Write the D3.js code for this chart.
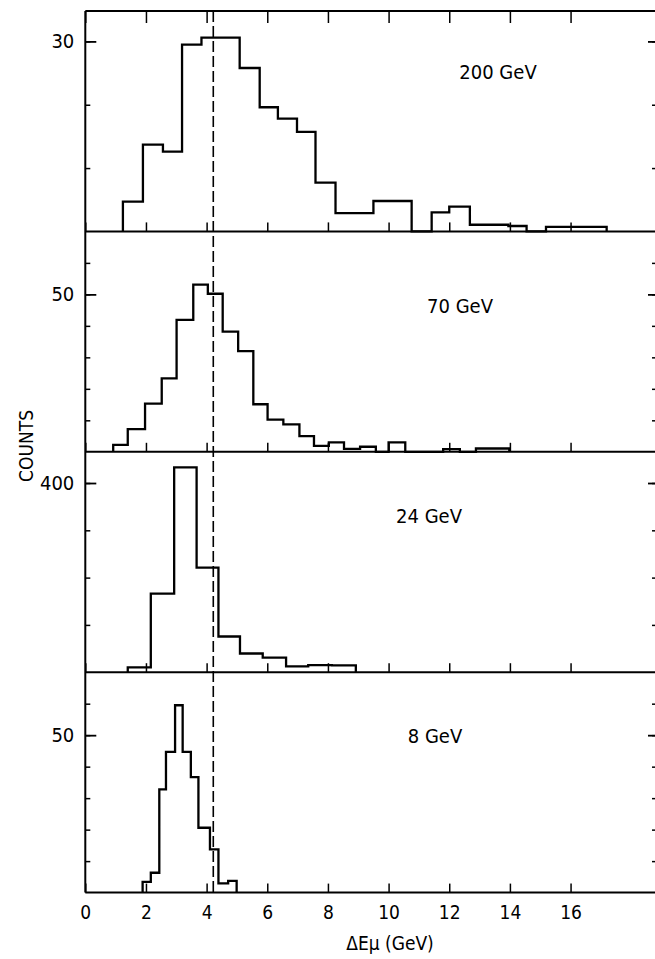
<!DOCTYPE html>
<html>
<head>
<meta charset="utf-8">
<script src="https://cdn.jsdelivr.net/npm/d3@7"></script>
<style>
  body { margin: 0; background: #fff; }
  text { font-family: "DejaVu Sans Condensed", "DejaVu Sans", sans-serif; font-stretch: condensed; fill: #000; }
</style>
</head>
<body>
<svg id="chart" width="655" height="959"></svg>
<script>
// Muon energy loss spectra at four beam energies (bin edges in GeV, counts per bin)
const panelLabels = ["200 GeV", "70 GeV", "24 GeV", "8 GeV"];

const edges200 = [1.24, 1.90, 2.56, 3.19, 3.83, 4.45, 5.09, 5.75, 6.35, 6.98, 7.59, 8.25, 8.88,
                  9.50, 10.13, 10.76, 11.42, 12.0, 12.68, 13.32, 13.95, 14.55, 15.19, 15.86, 16.53, 17.19];
const counts200 = [4.7, 13.7, 12.6, 29.5, 30.6, 30.6, 25.8, 19.6, 17.8, 15.7, 7.7, 2.9, 2.9,
                   4.8, 4.8, 0, 3.0, 3.9, 1.05, 1.05, 0.85, 0, 0.7, 0.7, 0.7];

const edges70 = [0.92, 1.40, 1.97, 2.52, 3.01, 3.56, 4.04, 4.53, 5.04, 5.54, 6.01, 6.53, 7.06,
                 7.54, 8.03, 8.53, 9.06, 9.58, 10.0, 10.55, 11.8, 12.35, 12.88, 13.43, 13.98];
const counts70 = [2.2, 7.2, 15.3, 23.3, 41.9, 53.1, 50.2, 38.2, 32.0, 15.1, 10.2, 8.7,
                  5.0, 1.9, 3.0, 0.9, 1.6, 0, 3.0, 0, 0.85, 0, 1.05, 1.05];

const edges24 = [1.40, 2.16, 2.93, 3.67, 4.39, 5.10, 5.85, 6.62, 7.35, 8.13, 8.92];
const counts24 = [10, 166, 433, 221, 75.5, 39.5, 31, 12.5, 15, 14.5];

const edges8 = [1.89, 2.16, 2.44, 2.66, 2.96, 3.21, 3.48, 3.73, 4.11, 4.39, 4.71, 4.99];
const counts8 = [3.4, 6.3, 32.8, 44.7, 59.5, 44.7, 36.7, 20.6, 13.7, 2.9, 3.7];

// Vertical axis extent, minor tick step and the labelled tick of each panel
const yMax = [34.8, 70, 466, 70];
const yStep = [10, 10, 100, 10];
const yLabelled = [30, 50, 400, 50];

// Horizontal axis
const xMax = 18.85;
const xTickValues = [0, 2, 4, 6, 8, 10, 12, 14, 16];
const refEnergyLoss = 4.22;   // dashed reference line (GeV)

const histograms = [
  { edges: edges200, counts: counts200 },
  { edges: edges70, counts: counts70 },
  { edges: edges24, counts: counts24 },
  { edges: edges8, counts: counts8 }
];

// ---------------- layout ----------------
const svg = d3.select("#chart");
const plotLeft = 85.3, plotRight = 657;
const plotTop = 11, panelH = 220.4;
const labelPos = [[498, 68], [460, 82], [429, 71], [435, 71]]; // [x px, baseline offset from panel top]

const x = d3.scaleLinear().domain([0, xMax]).range([plotLeft, plotRight]);
const plotBottom = plotTop + 4 * panelH;

const line = d3.line().x(d => x(d[0])).y(d => d[1]);

histograms.forEach((h, i) => {
  const y0 = plotTop + i * panelH;
  const y = d3.scaleLinear().domain([0, yMax[i]]).range([y0 + panelH, y0]);
  const g = svg.append("g");

  // step outline of the histogram
  const pts = [[h.edges[0], y(0)]];
  h.counts.forEach((c, k) => {
    pts.push([h.edges[k], y(c)]);
    pts.push([h.edges[k + 1], y(c)]);
  });
  pts.push([h.edges[h.edges.length - 1], y(0)]);
  g.append("path").attr("d", line(pts))
    .attr("fill", "none").attr("stroke", "#000").attr("stroke-width", 2.3)
    .attr("stroke-linejoin", "miter");

  // left axis: minor ticks + labelled tick (pointing inward)
  const minor = d3.range(yStep[i], yMax[i], yStep[i]);
  g.append("g").attr("transform", `translate(${plotLeft},0)`)
    .call(d3.axisLeft(y).tickValues(minor).tickSize(-5).tickFormat(""))
    .call(a => a.select(".domain").remove())
    .call(a => a.selectAll("line").attr("stroke-width", 1.5));
  g.append("g").attr("transform", `translate(${plotLeft},0)`)
    .call(d3.axisLeft(y).tickValues([yLabelled[i]]).tickSize(-11).tickPadding(11))
    .call(a => a.select(".domain").remove())
    .call(a => a.selectAll("line").attr("stroke-width", 1.8))
    .call(a => a.selectAll("text").attr("font-size", 20).attr("fill", "#000"));

  // right axis mirror ticks
  g.append("g").attr("transform", `translate(${plotRight},0)`)
    .call(d3.axisRight(y).tickValues(minor).tickSize(-5).tickFormat(""))
    .call(a => a.select(".domain").remove())
    .call(a => a.selectAll("line").attr("stroke-width", 1.5));
  g.append("g").attr("transform", `translate(${plotRight},0)`)
    .call(d3.axisRight(y).tickValues([yLabelled[i]]).tickSize(-9).tickFormat(""))
    .call(a => a.select(".domain").remove())
    .call(a => a.selectAll("line").attr("stroke-width", 1.8));

  // baseline with upward ticks
  const bx = d3.axisBottom(x).tickValues(xTickValues).tickSize(-9);
  if (i < 3) bx.tickFormat("");
  else bx.tickPadding(13);
  g.append("g").attr("transform", `translate(0,${y0 + panelH})`)
    .call(bx)
    .call(a => a.select(".domain").remove())
    .call(a => a.selectAll("line").attr("stroke-width", 1.5))
    .call(a => a.selectAll("text").attr("font-size", 19).attr("fill", "#000"));
  g.append("line")
    .attr("x1", plotLeft).attr("x2", plotRight)
    .attr("y1", y0 + panelH).attr("y2", y0 + panelH)
    .attr("stroke", "#000").attr("stroke-width", 2);

  // panel label
  g.append("text")
    .attr("x", labelPos[i][0]).attr("y", y0 + labelPos[i][1])
    .attr("text-anchor", "middle").attr("font-size", 20)
    .text(panelLabels[i]);
});

// top frame with downward ticks
svg.append("g").attr("transform", `translate(0,${plotTop})`)
  .call(d3.axisTop(x).tickValues(xTickValues).tickSize(-12).tickFormat(""))
  .call(a => a.select(".domain").remove())
  .call(a => a.selectAll("line").attr("stroke-width", 1.5));
svg.append("line").attr("x1", plotLeft).attr("x2", plotRight).attr("y1", plotTop).attr("y2", plotTop)
  .attr("stroke", "#000").attr("stroke-width", 2);

// left frame line
svg.append("line").attr("x1", plotLeft).attr("x2", plotLeft).attr("y1", plotTop).attr("y2", plotBottom)
  .attr("stroke", "#000").attr("stroke-width", 2);

// dashed reference line through all panels
svg.append("line")
  .attr("x1", x(refEnergyLoss)).attr("x2", x(refEnergyLoss))
  .attr("y1", plotTop).attr("y2", plotBottom)
  .attr("stroke", "#000").attr("stroke-width", 1.6)
  .attr("stroke-dasharray", "11,4");

// axis titles
svg.append("text")
  .attr("x", 390).attr("y", 950)
  .attr("text-anchor", "middle").attr("font-size", 19)
  .text("ΔEμ (GeV)");

svg.append("text")
  .attr("transform", "translate(33,446) rotate(-90)")
  .attr("text-anchor", "middle").attr("font-size", 19)
  .text("COUNTS");
</script>
</body>
</html>
